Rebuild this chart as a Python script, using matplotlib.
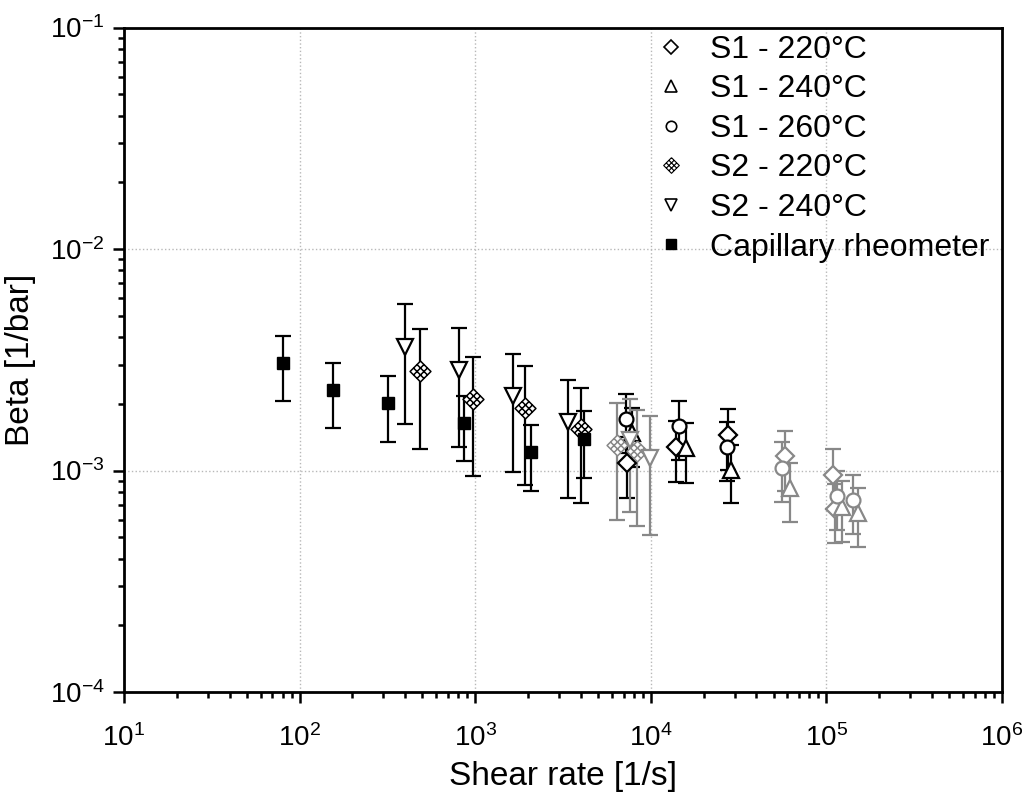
import matplotlib
matplotlib.use("Agg")
import matplotlib.pyplot as plt
import numpy as np
from matplotlib.path import Path
from matplotlib.lines import Line2D

plt.rcParams['font.family'] = ['Liberation Sans', 'DejaVu Sans']
plt.rcParams['mathtext.default'] = 'regular'

# Данные: скорость сдвига [1/s], beta [1/bar], погрешность
cap_x   = [80, 156, 318, 867, 2080, 4170]
cap_y   = [3.05e-3, 2.31e-3, 2.01e-3, 1.64e-3, 1.21e-3, 1.39e-3]
cap_err = [1.0e-3, 0.76e-3, 0.66e-3, 0.54e-3, 0.40e-3, 0.46e-3]

s2_240_x    = [400, 809, 1635, 3390, 7620, 9895]
s2_240_y    = [3.63e-3, 2.85e-3, 2.17e-3, 1.66e-3, 1.38e-3, 1.14e-3]
s2_240_err  = [2.0e-3, 1.57e-3, 1.19e-3, 0.91e-3, 0.73e-3, 0.63e-3]
s2_240_grey = [False, False, False, False, True, True]

s2_220_x    = [487, 971, 1923, 3990, 6430, 8320]
s2_220_y    = [2.80e-3, 2.10e-3, 1.91e-3, 1.54e-3, 1.31e-3, 1.22e-3]
s2_220_err  = [1.55e-3, 1.16e-3, 1.05e-3, 0.83e-3, 0.71e-3, 0.66e-3]
s2_220_grey = [False, False, False, False, True, True]

s1_220_x    = [7290, 1.40e4, 2.74e4, 5.81e4, 1.094e5, 1.12e5]
s1_220_y    = [1.08e-3, 1.28e-3, 1.45e-3, 1.16e-3, 0.957e-3, 0.670e-3]
s1_220_err  = [0.33e-3, 0.39e-3, 0.44e-3, 0.35e-3, 0.29e-3, 0.20e-3]
s1_220_grey = [False, False, False, True, True, True]

s1_240_x    = [7780, 1.58e4, 2.85e4, 6.21e4, 1.22e5, 1.52e5]
s1_240_y    = [1.48e-3, 1.26e-3, 1.01e-3, 0.833e-3, 0.684e-3, 0.642e-3]
s1_240_err  = [0.44e-3, 0.38e-3, 0.30e-3, 0.25e-3, 0.21e-3, 0.19e-3]
s1_240_grey = [False, False, False, True, True, True]

s1_260_x    = [7230, 1.44e4, 2.71e4, 5.56e4, 1.15e5, 1.41e5]
s1_260_y    = [1.71e-3, 1.59e-3, 1.28e-3, 1.03e-3, 0.769e-3, 0.738e-3]
s1_260_err  = [0.51e-3, 0.48e-3, 0.38e-3, 0.31e-3, 0.23e-3, 0.22e-3]
s1_260_grey = [False, False, False, True, True, True]

labels = ['S1 - 220°C', 'S1 - 240°C', 'S1 - 260°C', 'S2 - 220°C', 'S2 - 240°C',
          'Capillary rheometer']

GREY = '#888888'


def lattice_marker():
    """Ромб с решеткой 3x3 (маркер S2 - 220°C)"""
    verts = [(0, 1), (1, 0), (0, -1), (-1, 0), (0, 1)]
    codes = [Path.MOVETO] + [Path.LINETO] * 4
    for t in (1 / 3, 2 / 3):
        verts += [(-1 + t, t), (t, -1 + t)]
        codes += [Path.MOVETO, Path.LINETO]
        verts += [(-1 + t, -t), (t, 1 - t)]
        codes += [Path.MOVETO, Path.LINETO]
    return Path(verts, codes)


LATTICE = lattice_marker()


def draw(ax, x, y, err, grey, marker, ms, mew, which):
    x = np.array(x); y = np.array(y); err = np.array(err); grey = np.array(grey)
    mask = grey if which == 'grey' else ~grey
    if not mask.any():
        return
    c = GREY if which == 'grey' else 'black'
    ax.errorbar(x[mask], y[mask], yerr=err[mask], fmt='none', ecolor=c,
                elinewidth=1.6, capsize=5.5, capthick=1.6, zorder=2)
    ax.plot(x[mask], y[mask], linestyle='none', marker=marker, ms=ms,
            mfc='white', mec=c, mew=mew, zorder=3)


fig = plt.figure(figsize=(10.22, 7.98), dpi=100)
ax = fig.add_axes([0.1213, 0.1328, 0.8591, 0.8327])

series = [
    (s1_220_x, s1_220_y, s1_220_err, s1_220_grey, 'D', 9.5, 1.6),
    (s1_240_x, s1_240_y, s1_240_err, s1_240_grey, '^', 11, 1.6),
    (s1_260_x, s1_260_y, s1_260_err, s1_260_grey, 'o', 10, 1.6),
    (s2_220_x, s2_220_y, s2_220_err, s2_220_grey, LATTICE, 15, 1.1),
    (s2_240_x, s2_240_y, s2_240_err, s2_240_grey, 'v', 11.5, 1.6),
]

for which in ('black', 'grey'):
    for sx, sy, se, sg, m, ms, mew in series:
        draw(ax, sx, sy, se, sg, m, ms, mew, which)

ax.errorbar(cap_x, cap_y, yerr=cap_err, fmt='none', ecolor='black',
            elinewidth=1.6, capsize=5.5, capthick=1.6, zorder=2)
ax.plot(cap_x, cap_y, linestyle='none', marker='s', ms=9, color='black', zorder=3)

ax.set_xscale('log')
ax.set_yscale('log')
ax.set_xlim(10, 1e6)
ax.set_ylim(1e-4, 1e-1)

ax.grid(True, which='major', linestyle=':', color='#b8b8b8', linewidth=1.0)
ax.set_axisbelow(True)

for sp in ax.spines.values():
    sp.set_linewidth(2.0)
ax.tick_params(which='both', direction='out', width=1.8, labelsize=20,
               top=False, right=False)
ax.tick_params(which='major', length=8)
ax.tick_params(axis='x', which='major', pad=15)
ax.tick_params(axis='y', which='major', pad=6)
ax.tick_params(which='minor', length=4.5)

ax.set_xlabel('Shear rate [1/s]', fontsize=24, labelpad=7)
ax.set_ylabel('Beta [1/bar]', fontsize=24, labelpad=10)

handles = []
for (_, _, _, _, m, ms, mew) in series:
    handles.append(Line2D([], [], linestyle='none', marker=m, ms=ms * 0.75,
                          mfc='white', mec='black', mew=mew * 0.75))
handles.append(Line2D([], [], linestyle='none', marker='s', ms=7, color='black'))

ax.legend(handles, labels, loc='upper right', bbox_to_anchor=(1.008, 1.018),
          frameon=False, fontsize=23, handlelength=1.0, handletextpad=0.75,
          labelspacing=0.3, borderaxespad=0.2)

fig.savefig('out.png', dpi=100)
